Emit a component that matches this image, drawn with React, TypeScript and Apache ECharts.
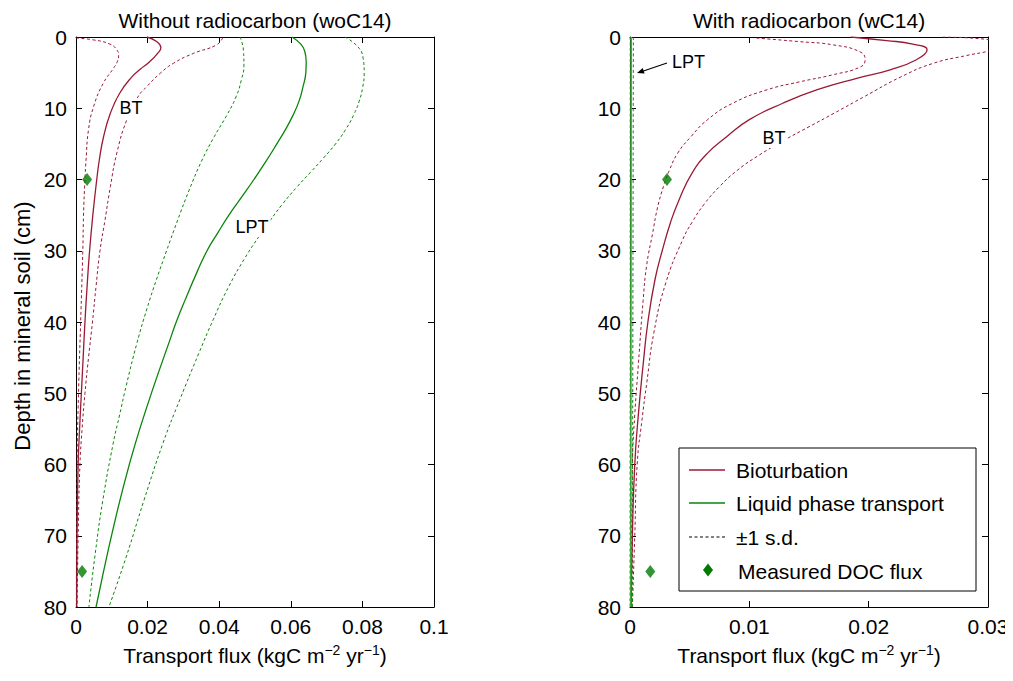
import React, { useEffect, useRef } from "react";
import * as echarts from "echarts";

const FONT = '"Liberation Sans", Arial, Helvetica, sans-serif';
const RED = "#991A33";
const GREEN = "#0A850A";
const DIAMOND = "#007A00";

// ---------- Without radiocarbon (woC14) ----------
const woBT_depth = [0, 0.6, 1.5, 2.3, 3.5, 4.5, 5.6, 7.9, 10.7, 14, 17.3, 20, 25, 30, 35, 40, 45, 50, 55, 60, 70, 80];
const woBT = [0.0198, 0.0224, 0.0237, 0.0228, 0.0205, 0.018, 0.0156, 0.0122, 0.0096, 0.0077, 0.0065, 0.0058, 0.0047, 0.0038, 0.0031, 0.0025, 0.002, 0.0015, 0.001, 0.0006, 0.0003, 0.0002];

const woBTlo_depth = [0.15, 0.4, 1.0, 1.8, 2.6, 3.4, 4.3, 6.5, 9.8, 13, 17.3, 20, 25, 30, 40, 50, 60, 80];
const woBTlo = [0, 0.0048, 0.0095, 0.0114, 0.0119, 0.0116, 0.0106, 0.0076, 0.0049, 0.0035, 0.0028, 0.0025, 0.0021, 0.0019, 0.0013, 0.0007, 0.0003, 0.0001];

const woBThi_depth = [0.1, 1.1, 2.3, 3.7, 5.1, 7, 8.4, 11.6, 16.3, 21, 25.7, 30, 35, 40, 45, 50, 55, 60, 70, 80];
const woBThi = [0.041, 0.0393, 0.0328, 0.0272, 0.0235, 0.0197, 0.0173, 0.0142, 0.0114, 0.0096, 0.0081, 0.0067, 0.0056, 0.0046, 0.0035, 0.0025, 0.0017, 0.0011, 0.0006, 0.0003];

const woLPT_depth = [0, 1, 2, 3.5, 5, 7, 9, 11, 13, 15, 17.5, 20, 22.5, 25, 27.5, 30, 33, 37, 40, 43, 47, 51, 57, 63, 69.6, 75, 80];
const woLPT = [0.0603, 0.0628, 0.0639, 0.0643, 0.0642, 0.0634, 0.0623, 0.0606, 0.0585, 0.0561, 0.053, 0.0497, 0.0462, 0.0427, 0.0396, 0.0366, 0.0338, 0.0304, 0.028, 0.0259, 0.0231, 0.0204, 0.0166, 0.0133, 0.0101, 0.0077, 0.0056];

const woLPTlo_depth = [0, 2, 4, 6, 8.4, 11, 14, 17.5, 21.5, 25.7, 30, 34, 38, 43, 49, 53, 57, 65, 72.4, 80];
const woLPTlo = [0.0458, 0.0468, 0.0469, 0.0462, 0.0447, 0.0421, 0.0386, 0.035, 0.0316, 0.0284, 0.0253, 0.0225, 0.0199, 0.017, 0.014, 0.0122, 0.0104, 0.0075, 0.0054, 0.0036];

const woLPThi_depth = [0, 1.4, 3, 5, 7, 9, 11, 13, 15, 17, 19, 21, 23.5, 26, 28, 31, 35, 39.7, 44.4, 50.9, 57, 65, 73, 80];
const woLPThi = [0.0751, 0.0788, 0.0802, 0.0805, 0.0801, 0.0791, 0.0775, 0.0753, 0.0725, 0.0691, 0.0655, 0.0618, 0.0576, 0.0539, 0.0511, 0.0472, 0.0427, 0.0383, 0.0343, 0.029, 0.0243, 0.019, 0.014, 0.0092];

// ---------- With radiocarbon (wC14) ----------
const wBT_depth = [0, 0.5, 1.0, 1.8, 3.2, 4.6, 5.8, 7.4, 9.3, 11.6, 14, 16.3, 19.1, 22.9, 26, 30, 34, 40, 46, 53, 60, 70, 80];
const wBT = [0.0185, 0.0215, 0.0237, 0.0249, 0.024, 0.0218, 0.019, 0.0157, 0.0128, 0.01, 0.0081, 0.0065, 0.0052, 0.0041, 0.0034, 0.0027, 0.0021, 0.0015, 0.0011, 0.0007, 0.0004, 0.0002, 0.0001];

const wBTlo_depth = [0.15, 0.65, 1.1, 2.1, 3.2, 4.2, 5.3, 6.3, 7.4, 9.3, 11.6, 14, 16.3, 18.7, 21, 24, 27.5, 32, 37, 46, 53, 60, 80];
const wBTlo = [0.0106, 0.0142, 0.017, 0.0193, 0.0197, 0.0193, 0.017, 0.0142, 0.0115, 0.0086, 0.0065, 0.0051, 0.004, 0.0033, 0.0028, 0.0023, 0.0019, 0.0014, 0.0011, 0.0007, 0.0004, 0.0002, 0.0001];

const wBThi_depth = [0, 0.35, 1.2, 2.0, 2.6, 3.7, 5.6, 8.4, 10.7, 12.6, 14.5, 16.5, 18.7, 21, 23.5, 26, 28.5, 34.5, 41.5, 48.6, 53.8, 60, 70, 80];
const wBThi = [0.0262, 0.03, 0.0318, 0.03, 0.0282, 0.0254, 0.0227, 0.0196, 0.0171, 0.015, 0.0129, 0.0109, 0.009, 0.0075, 0.0062, 0.0052, 0.0044, 0.003, 0.002, 0.0014, 0.001, 0.0006, 0.0004, 0.0002];

const wLPT_depth = [0, 20, 40, 60, 80];
const wLPT = [0.0001, 0.00009, 0.00008, 0.00007, 0.00006];
const wLPTlo = [0.00002, 0.00002, 0.00002, 0.00001, 0.00001];
const wLPThi = [0.00028, 0.00026, 0.00024, 0.00022, 0.0002];

// ---------- Measured DOC flux ----------
const measuredDepth = [20, 75];
const measuredFlux = [0.0031, 0.0017];

// ---------- Axis ticks ----------
const depthTicks = { min: 0, max: 80, interval: 10 };
const woFluxTicks = { min: 0, max: 0.1, interval: 0.02 };
const wFluxTicks = { min: 0, max: 0.03, interval: 0.01 };

const pairs = (x: number[], d: number[]) => x.map((v, i) => [v, d[i]]);

export default function App() {
  const ref = useRef<HTMLDivElement>(null);

  useEffect(() => {
    if (!ref.current) return;
    const chart = echarts.init(ref.current, undefined, { renderer: "svg" });

    const fmt = (v: number) => String(+v.toFixed(3));
    const axisLine = { show: true, onZero: false, lineStyle: { color: "#000", width: 1 } };
    const tick = { show: true, inside: true, length: 6, lineStyle: { color: "#000", width: 1 } };
    const labelStyle = { color: "#000", fontSize: 21, fontFamily: FONT };

    const xName = "{a|Transport flux (kgC m}{s|\u22122}{a| yr}{s|\u22121}{a|)}";
    const xNameStyle = {
      rich: {
        a: { fontSize: 21, fontFamily: FONT, color: "#000", lineHeight: 25 },
        s: { fontSize: 14, fontFamily: FONT, color: "#000", lineHeight: 14, verticalAlign: "top" },
      },
    };

    const xBottom = (gridIndex: number, t: any) => ({
      type: "value",
      gridIndex,
      position: "bottom",
      min: t.min,
      max: t.max,
      interval: t.interval,
      axisLine,
      axisTick: tick,
      splitLine: { show: false },
      axisLabel: { ...labelStyle, margin: 9, formatter: fmt },
      name: xName,
      nameLocation: "middle",
      nameGap: 36,
      nameTextStyle: xNameStyle,
    });
    const xTop = (gridIndex: number, t: any) => ({
      type: "value",
      gridIndex,
      position: "top",
      min: t.min,
      max: t.max,
      interval: t.interval,
      axisLine,
      axisTick: tick,
      splitLine: { show: false },
      axisLabel: { show: false },
    });
    const yLeft = (gridIndex: number) => ({
      type: "value",
      gridIndex,
      position: "left",
      inverse: true,
      min: depthTicks.min,
      max: depthTicks.max,
      interval: depthTicks.interval,
      axisLine,
      axisTick: tick,
      splitLine: { show: false },
      axisLabel: { ...labelStyle, margin: 9 },
    });
    const yRight = (gridIndex: number) => ({
      type: "value",
      gridIndex,
      position: "right",
      inverse: true,
      min: depthTicks.min,
      max: depthTicks.max,
      interval: depthTicks.interval,
      axisLine,
      axisTick: tick,
      splitLine: { show: false },
      axisLabel: { show: false },
    });

    const line = (name: string, x: number[], d: number[], color: string, dashed: boolean, xi: number, yi: number, width?: number) => ({
      name,
      type: "line",
      xAxisIndex: xi,
      yAxisIndex: yi,
      data: pairs(x, d),
      showSymbol: false,
      symbol: "none",
      smooth: 0.5,
      clip: true,
      lineStyle: { color, width: width ?? (dashed ? 1 : 1.3), type: dashed ? [3, 2.5] : "solid" },
      z: dashed ? 2 : 3,
    });
    const scatter = (xi: number, yi: number) => ({
      name: "Measured DOC flux",
      type: "scatter",
      xAxisIndex: xi,
      yAxisIndex: yi,
      data: pairs(measuredFlux, measuredDepth),
      symbol: "diamond",
      symbolSize: [10, 13],
      itemStyle: { color: DIAMOND },
      z: 5,
    });

    const txt = (text: string, x: number, y: number, size: number, align = "center", extra: any = {}) => ({
      type: "text",
      x,
      y,
      z: 100,
      style: {
        text,
        fontSize: size,
        fontFamily: FONT,
        fill: "#000",
        align,
        textAlign: align,
        verticalAlign: "middle",
        textVerticalAlign: "middle",
        ...extra,
      },
    });

    const legendX0 = 679, legendY0 = 448, legendW = 297, legendH = 143;
    const annoBg = { backgroundColor: "#fff", padding: [1, 2] };

    chart.setOption({
      animation: false,
      backgroundColor: "#fff",
      grid: [
        { left: 76, top: 37, width: 358, height: 570, containLabel: false },
        { left: 630, top: 37, width: 358, height: 570, containLabel: false },
      ],
      xAxis: [xBottom(0, woFluxTicks), xTop(0, woFluxTicks), xBottom(1, wFluxTicks), xTop(1, wFluxTicks)],
      yAxis: [yLeft(0), yRight(0), yLeft(1), yRight(1)],
      series: [
        line("BT-lo", woBTlo, woBTlo_depth, RED, true, 0, 0),
        line("BT-hi", woBThi, woBThi_depth, RED, true, 0, 0),
        line("BT", woBT, woBT_depth, RED, false, 0, 0),
        line("LPT-lo", woLPTlo, woLPTlo_depth, GREEN, true, 0, 0),
        line("LPT-hi", woLPThi, woLPThi_depth, GREEN, true, 0, 0),
        line("LPT", woLPT, woLPT_depth, GREEN, false, 0, 0),
        scatter(0, 0),
        line("wBT-lo", wBTlo, wBTlo_depth, RED, true, 2, 2),
        line("wBT-hi", wBThi, wBThi_depth, RED, true, 2, 2),
        line("wBT", wBT, wBT_depth, RED, false, 2, 2),
        line("wLPT-lo", wLPTlo, wLPT_depth, GREEN, true, 2, 2),
        line("wLPT-hi", wLPThi, wLPT_depth, GREEN, true, 2, 2),
        line("wLPT", wLPT, wLPT_depth, "#3FA83F", false, 2, 2, 1.6),
        scatter(2, 2),
      ],
      graphic: [
        txt("Without radiocarbon (woC14)", 255, 20, 21),
        txt("With radiocarbon (wC14)", 809, 20, 21),
        { ...txt("Depth in mineral soil (cm)", 22, 326, 22), rotation: Math.PI / 2 },
        txt("BT", 131, 108, 18, "center", annoBg),
        txt("LPT", 252, 227, 18, "center", annoBg),
        txt("BT", 774, 138, 18, "center", annoBg),
        txt("LPT", 672, 62, 18, "left"),
        { type: "line", z: 100, shape: { x1: 667, y1: 63, x2: 642, y2: 71.5 }, style: { stroke: "#000", lineWidth: 1.2 } },
        { type: "polygon", z: 100, shape: { points: [[637, 73], [644.6, 73.6], [642.7, 67.9]] }, style: { fill: "#000" } },
        // legend
        { type: "rect", z: 100, shape: { x: legendX0, y: legendY0, width: legendW, height: legendH }, style: { fill: "#fff", stroke: "#000", lineWidth: 1 } },
        { type: "line", z: 101, shape: { x1: 689, y1: 470, x2: 725, y2: 470 }, style: { stroke: RED, lineWidth: 1.3 } },
        txt("Bioturbation", 736, 470, 21, "left"),
        { type: "line", z: 101, shape: { x1: 689, y1: 503, x2: 725, y2: 503 }, style: { stroke: GREEN, lineWidth: 1.3 } },
        txt("Liquid phase transport", 736, 503, 21, "left"),
        { type: "line", z: 101, shape: { x1: 689, y1: 537, x2: 725, y2: 537 }, style: { stroke: "#000", lineWidth: 1, lineDash: [3, 2.5] } },
        txt("\u00b11 s.d.", 736, 537, 21, "left"),
        { type: "polygon", z: 101, shape: { points: [[708, 563.5], [713, 570], [708, 576.5], [703, 570]] }, style: { fill: DIAMOND } },
        txt("Measured DOC flux", 738, 571, 21, "left"),
      ],
    });

    return () => chart.dispose();
  }, []);

  return <div ref={ref} style={{ width: 1013, height: 681, margin: -8 }} />;
}
